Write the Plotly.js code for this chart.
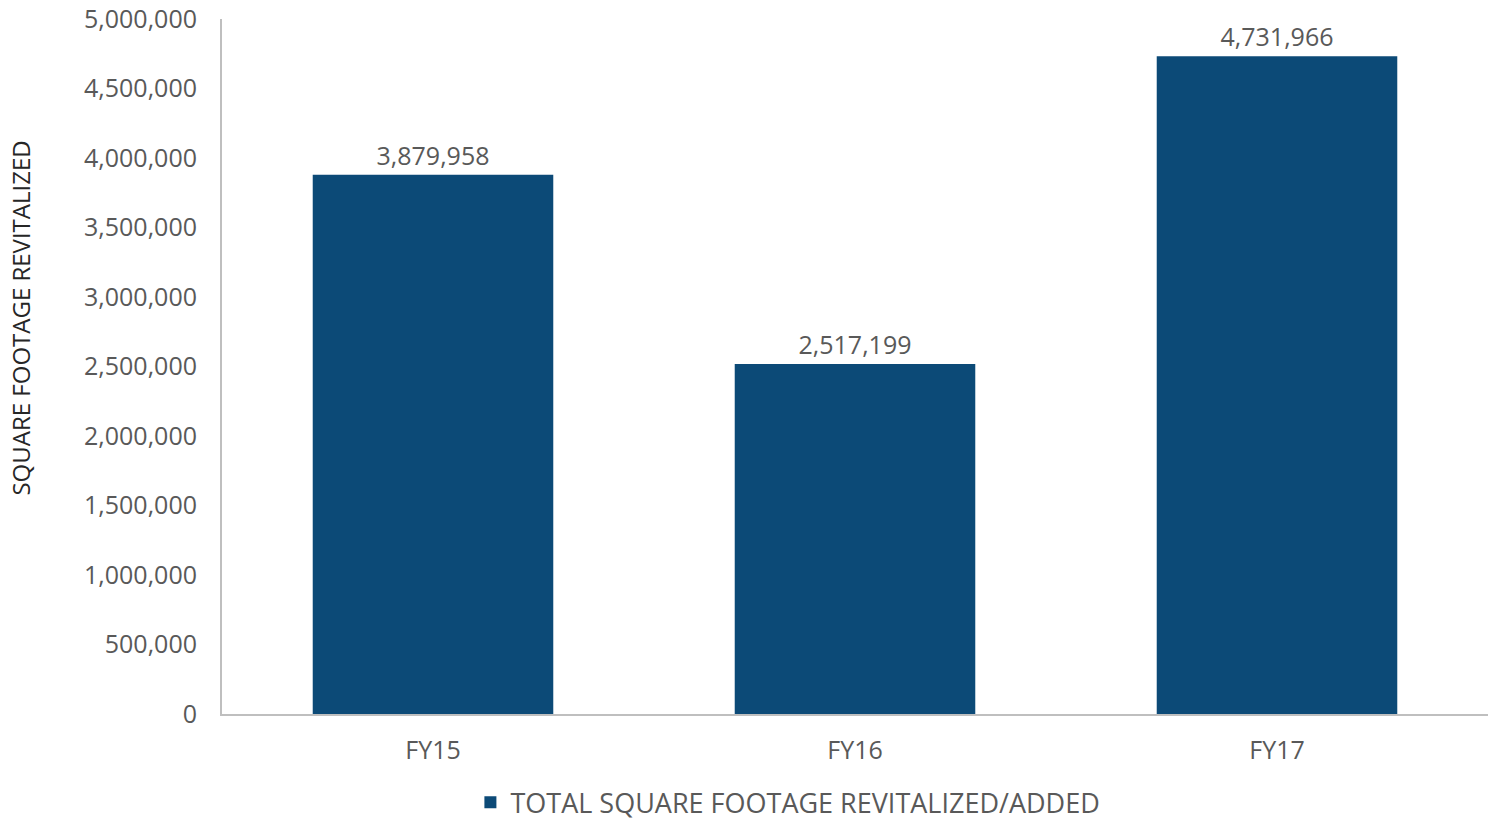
<!DOCTYPE html>
<html>
<head>
<meta charset="utf-8">
<script src="https://cdn.plot.ly/plotly-3.0.1.min.js"></script>
<style>html,body{margin:0;padding:0;background:#fff;}#chart{width:1495px;height:821px;}</style>
</head>
<body>
<div id="chart"></div>
<script>
const categories = ["FY15", "FY16", "FY17"];
const values = [3879958, 2517199, 4731966];
const seriesName = "TOTAL SQUARE FOOTAGE REVITALIZED/ADDED";
const yTickVals = [0, 500000, 1000000, 1500000, 2000000, 2500000, 3000000, 3500000, 4000000, 4500000, 5000000];
const yTitle = "SQUARE FOOTAGE REVITALIZED";

const FONT = "'Open Sans', Lato, sans-serif";
const GREY = "#595959";

const trace = {
  type: "bar",
  x: categories,
  y: values,
  name: seriesName,
  marker: { color: "#0C4A77" },
  text: values.map(v => v.toLocaleString("en-US")),
  textposition: "outside",
  textfont: { family: FONT, size: 25, color: GREY },
  cliponaxis: false,
  showlegend: true
};

const layout = {
  width: 1495,
  height: 821,
  margin: { l: 222, r: 7, t: 19, b: 107, autoexpand: false },
  paper_bgcolor: "#fff",
  plot_bgcolor: "#fff",
  bargap: 0.43,
  font: { family: FONT, size: 24, color: GREY },
  xaxis: {
    showline: true,
    linecolor: "#BFBFBF",
    linewidth: 2,
    ticks: "",
    tickfont: { family: FONT, size: 25, color: GREY },
    ticklabelstandoff: 13
  },
  yaxis: {
    range: [0, 5000000],
    tickvals: yTickVals,
    ticktext: yTickVals.map(v => v.toLocaleString("en-US")),
    showgrid: false,
    zeroline: false,
    showline: true,
    linecolor: "#BFBFBF",
    linewidth: 2,
    ticks: "",
    ticklabelstandoff: 18,
    tickfont: { family: FONT, size: 25, color: GREY }
  },
  legend: {
    orientation: "h",
    x: 0.447, xanchor: "center",
    y: -0.163, yanchor: "bottom",
    font: { family: FONT, size: 27, color: GREY },
    itemwidth: 30
  },
  annotations: [{
    text: yTitle,
    xref: "paper", yref: "paper",
    x: -0.159, y: 0.57,
    xanchor: "center", yanchor: "middle",
    textangle: -90,
    showarrow: false,
    font: { family: FONT, size: 24, color: "#262626" }
  }]
};

Plotly.newPlot("chart", [trace], layout, { displayModeBar: false, staticPlot: true });
</script>
</body>
</html>
